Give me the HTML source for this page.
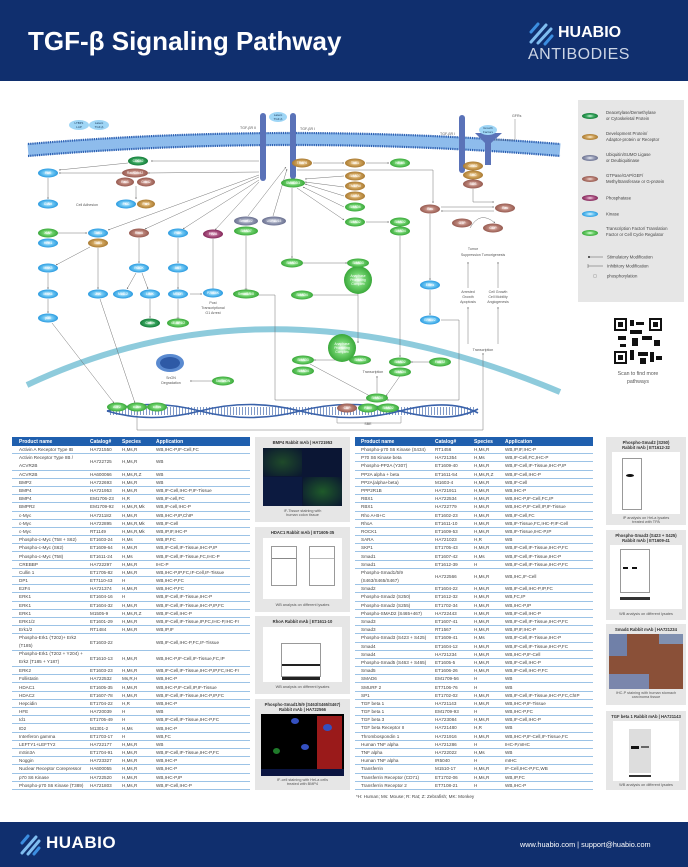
<!DOCTYPE html>
<html><head><meta charset="utf-8">
<style>
*{margin:0;padding:0;box-sizing:border-box}
body{width:688px;height:867px;position:relative;background:#fff;font-family:"Liberation Sans",sans-serif;overflow:hidden}
.hdr{position:absolute;left:0;top:0;width:688px;height:81px;background:#102f6e}
.ftr{position:absolute;left:0;top:822px;width:688px;height:45px;background:#102f6e}
.tbl{position:absolute;font-size:4.6px;color:#444}
.tbl .h{height:9px;background:#1f5fae;color:#fff;font-weight:bold;font-size:5px;display:flex;align-items:center}
.tbl .r{height:8.2px;display:flex;align-items:center;border-bottom:0.8px solid #9cc3e6}
.tbl .d{height:16.4px}
.tbl span{display:block;white-space:nowrap;overflow:hidden}
.L span:nth-child(1){width:78px;padding-left:7px}.L span:nth-child(2){width:32px}.L span:nth-child(3){width:34px}.L span:nth-child(4){width:94px}
.R span:nth-child(1){width:80px;padding-left:6px}.R span:nth-child(2){width:39px}.R span:nth-child(3){width:31px}.R span:nth-child(4){width:88px}
.pn{position:absolute;background:#e6e6e6;font-size:4px;color:#333;text-align:center}
.pn b{display:block;font-size:4.2px;margin-top:3px}
.pn .im{position:absolute;background:#fff}
.pn .cap{position:absolute;left:0;right:0;font-size:3.8px;color:#555}
</style></head><body>
<div class="hdr">
<div style="position:absolute;left:28px;top:26px;color:#fff;font-weight:bold;font-size:26px;">TGF-β Signaling Pathway</div>
<svg style="position:absolute;left:528px;top:22px" width="26" height="24"><g stroke-width="3" stroke-linecap="round"><line x1="3" y1="10" x2="10" y2="2" stroke="#3c8ee0"/><line x1="3" y1="20" x2="18" y2="3" stroke="#7fbdf0"/><line x1="10" y1="21" x2="23" y2="7" stroke="#7fbdf0"/><line x1="17" y1="22" x2="24" y2="14" stroke="#3c8ee0"/></g></svg>
<div style="position:absolute;left:558px;top:24px;color:#fff;font-size:16px;font-weight:bold;">HUABIO</div>
<div style="position:absolute;left:528px;top:46px;color:#cdd6e6;font-size:16px;letter-spacing:0.5px;">ANTIBODIES</div>
</div>

<svg style="position:absolute;left:0;top:0" width="688" height="440" viewBox="0 0 688 440">
<defs>
<radialGradient id="kb"><stop offset="0" stop-color="#e6f6ff"/><stop offset="0.5" stop-color="#6cc6f2"/><stop offset="1" stop-color="#2a9ae0"/></radialGradient>
<radialGradient id="tf"><stop offset="0" stop-color="#e6ffe6"/><stop offset="0.5" stop-color="#6cd06a"/><stop offset="1" stop-color="#3aa83a"/></radialGradient>
<radialGradient id="dp"><stop offset="0" stop-color="#fff2da"/><stop offset="0.5" stop-color="#d0a45c"/><stop offset="1" stop-color="#a97a32"/></radialGradient>
<radialGradient id="gt"><stop offset="0" stop-color="#f6e0dc"/><stop offset="0.5" stop-color="#bb8378"/><stop offset="1" stop-color="#965a50"/></radialGradient>
<radialGradient id="ub"><stop offset="0" stop-color="#eef0f8"/><stop offset="0.5" stop-color="#9aa0b8"/><stop offset="1" stop-color="#6a7090"/></radialGradient>
<radialGradient id="ph"><stop offset="0" stop-color="#f6d8e8"/><stop offset="0.5" stop-color="#b05a88"/><stop offset="1" stop-color="#84285a"/></radialGradient>
<radialGradient id="dc"><stop offset="0" stop-color="#d8f6e0"/><stop offset="0.5" stop-color="#3aa860"/><stop offset="1" stop-color="#137a38"/></radialGradient>
<marker id="a" markerWidth="4" markerHeight="4" refX="3.5" refY="2" orient="auto"><path d="M0,0.5 L4,2 L0,3.5z" fill="#555"/></marker>
<marker id="t" markerWidth="2" markerHeight="6" refX="1" refY="3" orient="auto"><path d="M1,0 L1,6" stroke="#555" stroke-width="1"/></marker>
</defs>
<!-- legend -->
<rect x="578" y="100" width="106" height="202" fill="#e6e6e6"/>
<g font-size="4.3" fill="#444">
<ellipse cx="590" cy="116" rx="8" ry="3" fill="url(#dc)"/><text x="606" y="114">Deacetylase/Demethylase</text><text x="606" y="120">or Cytoskeletal Protein</text>
<ellipse cx="590" cy="137" rx="8" ry="3" fill="url(#dp)"/><text x="606" y="135">Development Protein/</text><text x="606" y="141">Adaptor-protein or Receptor</text>
<ellipse cx="590" cy="158" rx="8" ry="3" fill="url(#ub)"/><text x="606" y="156">Ubiquitin/SUMO Ligase</text><text x="606" y="162">or Deubiquitinase</text>
<ellipse cx="590" cy="179" rx="8" ry="3" fill="url(#gt)"/><text x="606" y="177">GTPase/GAP/GEF/</text><text x="606" y="183">Methyltransferase or G-protein</text>
<ellipse cx="590" cy="198" rx="8" ry="3" fill="url(#ph)"/><text x="606" y="199.5">Phosphatase</text>
<ellipse cx="590" cy="214" rx="8" ry="3" fill="url(#kb)"/><text x="606" y="215.5">Kinase</text>
<ellipse cx="590" cy="233" rx="8" ry="3" fill="url(#tf)"/><text x="606" y="230">Transcription Factor/ Translation</text><text x="606" y="236">Factor or Cell Cycle Regulator</text>
<line x1="588" y1="257" x2="603" y2="257" stroke="#555" stroke-width="0.5"/><circle cx="589" cy="257" r="1" fill="#333"/><text x="607" y="258.5">Stimulatory Modification</text>
<line x1="588" y1="266" x2="603" y2="266" stroke="#555" stroke-width="0.5"/><line x1="588" y1="264" x2="588" y2="268" stroke="#555" stroke-width="0.5"/><text x="607" y="267.5">Inhibitory Modification</text>
<circle cx="595" cy="276" r="1.8" fill="none" stroke="#777" stroke-width="0.3"/><text x="607" y="277.5">phosphorylation</text>
</g>
<!-- QR -->
<rect x="614" y="318" width="48" height="46" fill="#fff"/>
<g fill="#111"><rect x="614" y="318" width="13" height="13"/><rect x="649" y="318" width="13" height="13"/><rect x="614" y="351" width="13" height="13"/>
<rect x="630" y="320" width="4" height="6"/><rect x="636" y="322" width="8" height="3"/><rect x="630" y="330" width="12" height="4"/><rect x="618" y="336" width="8" height="4"/><rect x="632" y="338" width="6" height="8"/><rect x="642" y="336" width="10" height="4"/><rect x="654" y="340" width="6" height="6"/><rect x="630" y="350" width="4" height="10"/><rect x="638" y="352" width="10" height="4"/><rect x="650" y="352" width="4" height="10"/><rect x="640" y="358" width="6" height="6"/><rect x="656" y="356" width="6" height="4"/><rect x="620" y="344" width="6" height="3"/></g>
<g fill="#fff"><rect x="616" y="320" width="9" height="9"/><rect x="651" y="320" width="9" height="9"/><rect x="616" y="353" width="9" height="9"/></g>
<g fill="#111"><rect x="618" y="322" width="5" height="5"/><rect x="653" y="322" width="5" height="5"/><rect x="618" y="355" width="5" height="5"/></g>
<text x="638" y="375" font-size="5.2" fill="#555" text-anchor="middle">Scan to find more</text>
<text x="638" y="383" font-size="5.2" fill="#555" text-anchor="middle">pathways</text>

<!-- nucleus -->
<path d="M27,385 Q270,270 560,392" fill="none" stroke="#8ecbdc" stroke-width="6"/>
<!-- membrane -->
<path d="M28,150 Q290,128 560,150" fill="none" stroke="#8ebcec" stroke-width="13"/>
<path d="M28,144 Q290,122 560,144" fill="none" stroke="#2e5fb0" stroke-width="2.2" stroke-dasharray="1.2 1"/>
<path d="M28,156 Q290,134 560,156" fill="none" stroke="#2e5fb0" stroke-width="2.2" stroke-dasharray="1.2 1"/>
<!-- receptors -->
<g fill="#5a72b8"><rect x="260" y="113" width="6" height="68" rx="3"/><rect x="290" y="113" width="6" height="66" rx="3"/><rect x="459" y="115" width="6" height="58" rx="3"/>
<path d="M475,133 L502,133 L491,143 L491,165 L485,165 L485,143z"/></g>
<g font-size="3.6" fill="#555"><text x="240" y="129">TGF-βR II</text><text x="300" y="130">TGF-βR I</text><text x="440" y="135">TGF-βR I</text><text x="512" y="117">GFRs</text></g>
<path d="M515,119 L515,140 L494,140" fill="none" stroke="#666" stroke-width="0.4"/>
<g fill="#9fd6f6"><ellipse cx="79" cy="125" rx="10" ry="5"/><ellipse cx="99" cy="125" rx="10" ry="5"/><ellipse cx="278" cy="117" rx="9" ry="5"/><ellipse cx="488" cy="130" rx="9" ry="5"/></g>
<g font-size="3" fill="#246" text-anchor="middle"><text x="79" y="124">LTBP1</text><text x="79" y="128">LAP</text><text x="99" y="124">Latent</text><text x="99" y="128">TGF-β</text><text x="278" y="116">Latent</text><text x="278" y="120">TGF-β</text><text x="488" y="129">Growth</text><text x="488" y="133">Factors</text></g>

<!-- connectors -->
<g stroke="#666" stroke-width="0.45" fill="none" marker-end="url(#a)">
<line x1="259" y1="161" x2="151" y2="161"/><line x1="259" y1="172" x2="148" y2="173"/>
<line x1="128" y1="163" x2="59" y2="170"/><line x1="124" y1="173" x2="59" y2="173"/>
<line x1="48" y1="178" x2="48" y2="199"/><line x1="136" y1="186" x2="136" y2="199"/>
<line x1="259" y1="175" x2="108" y2="230"/><line x1="259" y1="177" x2="145" y2="229"/><line x1="259" y1="180" x2="183" y2="229"/><line x1="259" y1="182" x2="215" y2="230"/>
<line x1="248" y1="216" x2="286" y2="167"/><line x1="273" y1="216" x2="287" y2="169"/>
<line x1="313" y1="163" x2="344" y2="163"/><line x1="366" y1="163" x2="389" y2="163"/>
<path d="M297,170 L433,170 L433,203"/>
<line x1="344" y1="176" x2="305" y2="179"/><line x1="344" y1="187" x2="305" y2="182"/><line x1="344" y1="196" x2="305" y2="184"/><line x1="344" y1="207" x2="303" y2="187"/>
<line x1="297" y1="188" x2="344" y2="220"/><line x1="366" y1="222" x2="389" y2="222"/>
<line x1="292" y1="188" x2="292" y2="258"/><line x1="303" y1="263" x2="347" y2="263"/>
<line x1="58" y1="233" x2="87" y2="233"/><line x1="90" y1="247" x2="56" y2="265"/><line x1="98" y1="248" x2="98" y2="289"/>
<line x1="48" y1="273" x2="48" y2="289"/><line x1="48" y1="299" x2="48" y2="313"/>
<line x1="139" y1="238" x2="139" y2="263"/><line x1="136" y1="273" x2="127" y2="289"/><line x1="142" y1="273" x2="148" y2="289"/><line x1="150" y1="299" x2="150" y2="318"/>
<line x1="178" y1="238" x2="178" y2="263"/><line x1="178" y1="273" x2="178" y2="289"/><line x1="190" y1="294" x2="202" y2="294"/>
<path d="M312,295 L358,295 L358,343"/><line x1="358" y1="295" x2="358" y2="274"/>
<path d="M258,295 L275,295 L275,400 L369,400"/>
<path d="M400,236 L400,357"/>
<line x1="430" y1="214" x2="430" y2="280"/><line x1="430" y1="290" x2="430" y2="315"/>
<path d="M441,320 L459,320 L459,400 L387,400"/>
<line x1="441" y1="207" x2="494" y2="207"/><path d="M473,189 L473,202 L494,202"/><line x1="494" y1="211" x2="441" y2="211"/>
<path d="M470,228 Q480,210 495,223"/>
<line x1="52" y1="323" x2="114" y2="403"/><line x1="100" y1="299" x2="135" y2="403"/>
<line x1="212" y1="381" x2="190" y2="381"/>
<line x1="310" y1="364" x2="370" y2="396"/><line x1="400" y1="376" x2="386" y2="396"/>
<line x1="377" y1="393" x2="377" y2="376"/><line x1="429" y1="362" x2="411" y2="362"/>
<line x1="350" y1="360" x2="314" y2="360"/>
<line x1="468" y1="344" x2="468" y2="307"/><line x1="498" y1="344" x2="498" y2="307"/><line x1="468" y1="288" x2="468" y2="262"/><line x1="498" y1="288" x2="498" y2="262"/>
<path d="M137,412 L137,430 L483,430 L483,353"/>
</g>
<g stroke="#666" stroke-width="0.45" fill="none" marker-end="url(#t)">
<line x1="246" y1="236" x2="246" y2="289"/><line x1="213" y1="239" x2="213" y2="289"/><line x1="178" y1="299" x2="178" y2="318"/>
</g>
<!-- APC circles -->
<circle cx="358" cy="280" r="14" fill="url(#tf)"/><circle cx="342" cy="348" r="14" fill="url(#tf)"/>
<g font-size="3.4" fill="#fff" text-anchor="middle"><text x="358" y="277">Anaphase</text><text x="358" y="281">Promoting</text><text x="358" y="285">Complex</text><text x="342" y="345">Anaphase</text><text x="342" y="349">Promoting</text><text x="342" y="353">Complex</text></g>
<!-- SnON -->
<ellipse cx="170" cy="363" rx="14" ry="9" fill="#5a8ad0"/><ellipse cx="170" cy="363" rx="10" ry="6" fill="#2e5aa6"/>
<!-- DNA -->
<path d="M107,411 Q150,398 200,411 T300,411 T400,411 T478,409" fill="none" stroke="#3a62aa" stroke-width="1.6"/>
<path d="M107,411 Q150,424 200,411 T300,411 T400,411 T478,413" fill="none" stroke="#3a62aa" stroke-width="1.6"/>
<path d="M110,411 H476" stroke="#3a62aa" stroke-width="8" stroke-dasharray="0.8 2.2" opacity="0.8"/>
<path d="M337,416 L337,423 L401,423 L401,416" fill="none" stroke="#666" stroke-width="0.4"/>
<g font-size="3.6" fill="#555" text-anchor="middle">
<text x="87" y="206">Cell Adhesion</text>
<text x="213" y="304">Post</text><text x="213" y="309">Transcriptional</text><text x="213" y="314">G1 Arrest</text>
<text x="473" y="250">Tumor</text><text x="483" y="256">Suppression Tumorigenesis</text>
<text x="468" y="293">Arrested</text><text x="468" y="298">Growth</text><text x="468" y="303">Apoptosis</text>
<text x="498" y="293">Cell Growth</text><text x="498" y="298">Cell Mobility</text><text x="498" y="303">Angiogenesis</text>
<text x="483" y="351">Transcription</text><text x="373" y="373">Transcription</text>
<text x="171" y="379">SnON</text><text x="171" y="384">Degradation</text><text x="368" y="425">SBE</text>
</g>
<!-- nodes -->
<g font-size="3.3" fill="#fff" text-anchor="middle">
<g id="nodes"></g>
<ellipse cx="138" cy="161" rx="10" ry="4.5" fill="url(#dc)"/><text x="138" y="162.2">CDC42</text>
<ellipse cx="48" cy="173" rx="10" ry="4.5" fill="url(#kb)"/><text x="48" y="174.2">PAK</text>
<ellipse cx="135" cy="173" rx="13" ry="4.5" fill="url(#gt)"/><text x="135" y="174.2">Rac/Cdc42</text>
<ellipse cx="125" cy="182" rx="9" ry="4.5" fill="url(#gt)"/><text x="125" y="183.2">Rac1</text>
<ellipse cx="146" cy="182" rx="9" ry="4.5" fill="url(#gt)"/><text x="146" y="183.2">Cdc42</text>
<ellipse cx="48" cy="204" rx="10" ry="4.5" fill="url(#kb)"/><text x="48" y="205.2">C-Abl</text>
<ellipse cx="126" cy="204" rx="10" ry="4.5" fill="url(#kb)"/><text x="126" y="205.2">PKC</text>
<ellipse cx="146" cy="204" rx="9" ry="4.5" fill="url(#dp)"/><text x="146" y="205.2">Par6</text>
<ellipse cx="302" cy="163" rx="10" ry="4.5" fill="url(#dp)"/><text x="302" y="164.2">TRAF6</text>
<ellipse cx="355" cy="163" rx="10" ry="4.5" fill="url(#dp)"/><text x="355" y="164.2">TAK1</text>
<ellipse cx="400" cy="163" rx="10" ry="4.5" fill="url(#tf)"/><text x="400" y="164.2">NF-kB</text>
<ellipse cx="355" cy="176" rx="10" ry="4.5" fill="url(#dp)"/><text x="355" y="177.2">SMAD7</text>
<ellipse cx="355" cy="186" rx="10" ry="4.5" fill="url(#dp)"/><text x="355" y="187.2">TMEPAI</text>
<ellipse cx="355" cy="196" rx="10" ry="4.5" fill="url(#dp)"/><text x="355" y="197.2">SARA</text>
<ellipse cx="355" cy="207" rx="10" ry="4.5" fill="url(#tf)"/><text x="355" y="208.2">SMAD6</text>
<ellipse cx="293" cy="183" rx="12" ry="4.5" fill="url(#tf)"/><text x="293" y="184.2">SMAD2/3</text>
<ellipse cx="355" cy="222" rx="10" ry="4.5" fill="url(#tf)"/><text x="355" y="223.2">SMAD2</text>
<ellipse cx="400" cy="222" rx="10" ry="4.5" fill="url(#tf)"/><text x="400" y="223.2">SMAD2</text>
<ellipse cx="400" cy="231" rx="10" ry="4.5" fill="url(#tf)"/><text x="400" y="232.2">SMAD4</text>
<ellipse cx="473" cy="166" rx="10" ry="4.5" fill="url(#dp)"/><text x="473" y="167.2">GRB2</text>
<ellipse cx="473" cy="175" rx="10" ry="4.5" fill="url(#dp)"/><text x="473" y="176.2">SHC</text>
<ellipse cx="473" cy="184" rx="10" ry="4.5" fill="url(#gt)"/><text x="473" y="185.2">SOS</text>
<ellipse cx="430" cy="209" rx="10" ry="4.5" fill="url(#gt)"/><text x="430" y="210.2">Ras</text>
<ellipse cx="505" cy="208" rx="10" ry="4.5" fill="url(#gt)"/><text x="505" y="209.2">Ras</text>
<ellipse cx="462" cy="223" rx="10" ry="4.5" fill="url(#gt)"/><text x="462" y="224.2">GTP</text>
<ellipse cx="493" cy="228" rx="10" ry="4.5" fill="url(#gt)"/><text x="493" y="229.2">GDP</text>
<ellipse cx="48" cy="233" rx="10" ry="4.5" fill="url(#tf)"/><text x="48" y="234.2">XIAP</text>
<ellipse cx="48" cy="243" rx="10" ry="4.5" fill="url(#kb)"/><text x="48" y="244.2">HPK1</text>
<ellipse cx="98" cy="233" rx="10" ry="4.5" fill="url(#kb)"/><text x="98" y="234.2">TAK1</text>
<ellipse cx="98" cy="243" rx="10" ry="4.5" fill="url(#dp)"/><text x="98" y="244.2">TAB1</text>
<ellipse cx="139" cy="233" rx="10" ry="4.5" fill="url(#gt)"/><text x="139" y="234.2">RhoA</text>
<ellipse cx="178" cy="233" rx="10" ry="4.5" fill="url(#kb)"/><text x="178" y="234.2">PI3K</text>
<ellipse cx="213" cy="234" rx="10" ry="4.5" fill="url(#ph)"/><text x="213" y="235.2">PP2A</text>
<ellipse cx="246" cy="221" rx="12" ry="4.5" fill="url(#ub)"/><text x="246" y="222.2">Smurf1/2</text>
<ellipse cx="246" cy="231" rx="12" ry="4.5" fill="url(#tf)"/><text x="246" y="232.2">SMAD7</text>
<ellipse cx="274" cy="221" rx="12" ry="4.5" fill="url(#ub)"/><text x="274" y="222.2">USP11/15</text>
<ellipse cx="48" cy="268" rx="10" ry="4.5" fill="url(#kb)"/><text x="48" y="269.2">MKK3</text>
<ellipse cx="139" cy="268" rx="10" ry="4.5" fill="url(#kb)"/><text x="139" y="269.2">ROCK</text>
<ellipse cx="178" cy="268" rx="10" ry="4.5" fill="url(#kb)"/><text x="178" y="269.2">AKT</text>
<ellipse cx="292" cy="263" rx="11" ry="4.5" fill="url(#tf)"/><text x="292" y="264.2">SMAD3</text>
<ellipse cx="358" cy="263" rx="11" ry="4.5" fill="url(#tf)"/><text x="358" y="264.2">SMAD3</text>
<ellipse cx="48" cy="294" rx="10" ry="4.5" fill="url(#kb)"/><text x="48" y="295.2">MKK6</text>
<ellipse cx="98" cy="294" rx="10" ry="4.5" fill="url(#kb)"/><text x="98" y="295.2">JNK</text>
<ellipse cx="123" cy="294" rx="10" ry="4.5" fill="url(#kb)"/><text x="123" y="295.2">MLC-2</text>
<ellipse cx="150" cy="294" rx="10" ry="4.5" fill="url(#kb)"/><text x="150" y="295.2">LIMK</text>
<ellipse cx="178" cy="294" rx="10" ry="4.5" fill="url(#kb)"/><text x="178" y="295.2">MTOR</text>
<ellipse cx="213" cy="293" rx="10" ry="4.5" fill="url(#kb)"/><text x="213" y="294.2">P70S6K</text>
<ellipse cx="246" cy="294" rx="13" ry="4.5" fill="url(#tf)"/><text x="246" y="295.2">Smad1/5/8</text>
<ellipse cx="302" cy="295" rx="11" ry="4.5" fill="url(#tf)"/><text x="302" y="296.2">SMAD4</text>
<ellipse cx="430" cy="285" rx="10" ry="4.5" fill="url(#kb)"/><text x="430" y="286.2">ERKs</text>
<ellipse cx="48" cy="318" rx="10" ry="4.5" fill="url(#kb)"/><text x="48" y="319.2">p38</text>
<ellipse cx="150" cy="323" rx="10" ry="4.5" fill="url(#dc)"/><text x="150" y="324.2">Cofilin</text>
<ellipse cx="178" cy="323" rx="11" ry="4.5" fill="url(#tf)"/><text x="178" y="324.2">4E-BP1/2</text>
<ellipse cx="430" cy="320" rx="10" ry="4.5" fill="url(#kb)"/><text x="430" y="321.2">ERK1/2</text>
<ellipse cx="223" cy="381" rx="11" ry="4.5" fill="url(#tf)"/><text x="223" y="382.2">Ski/SnON</text>
<ellipse cx="303" cy="360" rx="11" ry="4.5" fill="url(#tf)"/><text x="303" y="361.2">SMAD3</text>
<ellipse cx="303" cy="371" rx="11" ry="4.5" fill="url(#tf)"/><text x="303" y="372.2">SMAD4</text>
<ellipse cx="360" cy="360" rx="11" ry="4.5" fill="url(#tf)"/><text x="360" y="361.2">SMAD3</text>
<ellipse cx="400" cy="362" rx="11" ry="4.5" fill="url(#tf)"/><text x="400" y="363.2">SMAD2</text>
<ellipse cx="400" cy="372" rx="11" ry="4.5" fill="url(#tf)"/><text x="400" y="373.2">SMAD4</text>
<ellipse cx="440" cy="362" rx="11" ry="4.5" fill="url(#tf)"/><text x="440" y="363.2">FAST2</text>
<ellipse cx="377" cy="398" rx="11" ry="4.5" fill="url(#tf)"/><text x="377" y="399.2">SMAD4</text>
<ellipse cx="117" cy="407" rx="10" ry="4.5" fill="url(#tf)"/><text x="117" y="408.2">ATF2</text>
<ellipse cx="137" cy="407" rx="10" ry="4.5" fill="url(#tf)"/><text x="137" y="408.2">c-Jun</text>
<ellipse cx="157" cy="407" rx="10" ry="4.5" fill="url(#tf)"/><text x="157" y="408.2">c-Fos</text>
<ellipse cx="347" cy="408" rx="10" ry="4.5" fill="url(#gt)"/><text x="347" y="409.2">CBP</text>
<ellipse cx="368" cy="408" rx="10" ry="4.5" fill="url(#tf)"/><text x="368" y="409.2">P300</text>
<ellipse cx="388" cy="408" rx="11" ry="4.5" fill="url(#tf)"/><text x="388" y="409.2">SMAD2</text>
</g>
</svg>

<!-- LEFT TABLE -->
<div class="tbl L" style="left:12px;top:437px;width:238px">
<div class="h"><span>Product name</span><span>Catalog#</span><span>Species</span><span>Application</span></div>
<div class="r"><span>Activin A Receptor Type IB</span><span>HA721550</span><span>H,Ms,R</span><span>WB,IHC-P,IF-Cell,FC</span></div>
<div class="r d"><span style="white-space:normal;line-height:8px">Activin Receptor Type IIB / ACVR2B</span><span>HA722725</span><span>H,Ms,R</span><span>WB</span></div>
<div class="r"><span>ACVR2B</span><span>HA600066</span><span>H,Ms,R,Z</span><span>WB</span></div>
<div class="r"><span>BMP2</span><span>HA722693</span><span>H,Ms,R</span><span>WB</span></div>
<div class="r"><span>BMP4</span><span>HA721953</span><span>H,Ms,R</span><span>WB,IF-Cell,IHC-P,IF-Tissue</span></div>
<div class="r"><span>BMP4</span><span>EM1706-23</span><span>H,R</span><span>WB,IF-cell,FC</span></div>
<div class="r"><span>BMPR2</span><span>EM1709-92</span><span>H,Ms,R,Mk</span><span>WB,IF-cell,IHC-P</span></div>
<div class="r"><span>c-Myc</span><span>HA721182</span><span>H,Ms,R</span><span>WB,IHC-P,IP,ChIP</span></div>
<div class="r"><span>c-Myc</span><span>HA722895</span><span>H,Ms,R,Mk</span><span>WB,IF-Cell</span></div>
<div class="r"><span>c-Myc</span><span>RT1149</span><span>H,Ms,R,Mk</span><span>WB,IP,IF,IHC-P</span></div>
<div class="r"><span>Phospho-c-Myc (T58 + S62)</span><span>ET1603-24</span><span>H,Ms</span><span>WB,IP,FC</span></div>
<div class="r"><span>Phospho-c-Myc (S62)</span><span>ET1609-64</span><span>H,Ms,R</span><span>WB,IF-Cell,IF-Tissue,IHC-P,IP</span></div>
<div class="r"><span>Phospho-c-Myc (T58)</span><span>ET1611-24</span><span>H,Ms</span><span>WB,IF-Cell,IF-Tissue,FC,IHC-P</span></div>
<div class="r"><span>CREBBP</span><span>HA722297</span><span>H,Ms,R</span><span>IHC-P</span></div>
<div class="r"><span>Cullin 1</span><span>ET1705-82</span><span>H,Ms,R</span><span>WB,IHC-P,IP,FC,IF-Cell,IF-Tissue</span></div>
<div class="r"><span>DP1</span><span>ET7110-43</span><span>H</span><span>WB,IHC-P,FC</span></div>
<div class="r"><span>E2F4</span><span>HA721374</span><span>H,Ms,R</span><span>WB,IHC-P,FC</span></div>
<div class="r"><span>ERK1</span><span>ET1604-16</span><span>H</span><span>WB,IF-Cell,IF-Tissue,IHC-P</span></div>
<div class="r"><span>ERK1</span><span>ET1604-32</span><span>H,Ms,R</span><span>WB,IF-Cell,IF-Tissue,IHC-P,IP,FC</span></div>
<div class="r"><span>ERK1</span><span>M1505-9</span><span>H,Ms,R,Z</span><span>WB,IF-Cell,IHC-P</span></div>
<div class="r"><span>ERK1/2</span><span>ET1601-29</span><span>H,Ms,R</span><span>WB,IF-Cell,IF-Tissue,IP,FC,IHC-P,IHC-Fr</span></div>
<div class="r"><span>Erk1/2</span><span>RT1484</span><span>H,Ms,R</span><span>WB,IP,IF</span></div>
<div class="r d"><span style="white-space:normal;line-height:8px">Phospho-Erk1 (T202)+ Erk2 (T185)</span><span>ET1603-22</span><span></span><span>WB,IF-Cell,IHC-P,FC,IF-Tissue</span></div>
<div class="r d"><span style="white-space:normal;line-height:8px">Phospho-Erk1 (T202 + Y204) + Erk2 (T185 + Y187)</span><span>ET1610-13</span><span>H,Ms,R</span><span>WB,IHC-P,IF-Cell,IF-Tissue,FC,IP</span></div>
<div class="r"><span>ERK2</span><span>ET1603-23</span><span>H,Ms,R</span><span>WB,IF-Cell,IF-Tissue,IHC-P,IP,FC,IHC-Fr</span></div>
<div class="r"><span>Follistatin</span><span>HA722532</span><span>Ms,R,H</span><span>WB,IHC-P</span></div>
<div class="r"><span>HDAC1</span><span>ET1605-35</span><span>H,Ms,R</span><span>WB,IHC-P,IF-Cell,IP,IF-Tissue</span></div>
<div class="r"><span>HDAC2</span><span>ET1607-78</span><span>H,Ms,R</span><span>WB,IF-Cell,IF-Tissue,IHC-P,IP,FC</span></div>
<div class="r"><span>Hepcidin</span><span>ET1704-22</span><span>H,R</span><span>WB,IHC-P</span></div>
<div class="r"><span>HFE</span><span>HA720039</span><span>H</span><span>WB</span></div>
<div class="r"><span>Id1</span><span>ET1705-49</span><span>H</span><span>WB,IF-Cell,IF-Tissue,IHC-P,FC</span></div>
<div class="r"><span>ID2</span><span>M1301-2</span><span>H,Ms</span><span>WB,IHC-P</span></div>
<div class="r"><span>Interferon gamma</span><span>ET1703-17</span><span>H</span><span>WB,FC</span></div>
<div class="r"><span>LEFTY1+LEFTY2</span><span>HA722177</span><span>H,Ms,R</span><span>WB</span></div>
<div class="r"><span>mSin3A</span><span>ET1704-91</span><span>H,Ms,R</span><span>WB,IF-Cell,IF-Tissue,IHC-P,FC</span></div>
<div class="r"><span>Noggin</span><span>HA723327</span><span>H,Ms,R</span><span>WB,IHC-P</span></div>
<div class="r"><span>Nuclear Receptor Corepressor</span><span>HA600055</span><span>H,Ms,R</span><span>WB,IHC-P</span></div>
<div class="r"><span>p70 S6 Kinase</span><span>HA722520</span><span>H,Ms,R</span><span>WB,IHC-P,IP</span></div>
<div class="r"><span>Phospho-p70 S6 Kinase (T389)</span><span>HA721803</span><span>H,Ms,R</span><span>WB,IF-Cell,IHC-P</span></div>
</div>

<!-- RIGHT TABLE -->
<div class="tbl R" style="left:355px;top:437px;width:238px">
<div class="h"><span>Product name</span><span>Catalog#</span><span>Species</span><span>Application</span></div>
<div class="r"><span>Phospho-p70 S6 Kinase (S434)</span><span>RT1456</span><span>H,Ms,R</span><span>WB,IP,IF,IHC-P</span></div>
<div class="r"><span>P70 S6 Kinase beta</span><span>HA721354</span><span>H,Ms</span><span>WB,IF-Cell,FC,IHC-P</span></div>
<div class="r"><span>Phospho-PP2A (Y307)</span><span>ET1609-40</span><span>H,Ms,R</span><span>WB,IF-Cell,IF-Tissue,IHC-P,IP</span></div>
<div class="r"><span>PP2A alpha + beta</span><span>ET1611-54</span><span>H,Ms,R,Z</span><span>WB,IF-Cell,IHC-P</span></div>
<div class="r"><span>PP2A(alpha+beta)</span><span>M1603-4</span><span>H,Ms,R</span><span>WB,IF-Cell</span></div>
<div class="r"><span>PPP2R1B</span><span>HA721911</span><span>H,Ms,R</span><span>WB,IHC-P</span></div>
<div class="r"><span>RBX1</span><span>HA722534</span><span>H,Ms,R</span><span>WB,IHC-P,IF-Cell,FC,IP</span></div>
<div class="r"><span>RBX1</span><span>HA722779</span><span>H,Ms,R</span><span>WB,IHC-P,IF-Cell,IP,IF-Tissue</span></div>
<div class="r"><span>Rho A+B+C</span><span>ET1602-23</span><span>H,Ms,R</span><span>WB,IF-Cell,FC</span></div>
<div class="r"><span>RhoA</span><span>ET1611-10</span><span>H,Ms,R</span><span>WB,IF-Tissue,FC,IHC-P,IF-Cell</span></div>
<div class="r"><span>ROCK1</span><span>ET1609-53</span><span>H,Ms,R</span><span>WB,IF-Tissue,IHC-P,IP</span></div>
<div class="r"><span>SARA</span><span>HA721023</span><span>H,R</span><span>WB</span></div>
<div class="r"><span>SKP1</span><span>ET1705-43</span><span>H,Ms,R</span><span>WB,IF-Cell,IF-Tissue,IHC-P,FC</span></div>
<div class="r"><span>Smad1</span><span>ET1607-42</span><span>H,Ms</span><span>WB,IF-Cell,IF-Tissue,IHC-P</span></div>
<div class="r"><span>Smad1</span><span>ET1612-39</span><span>H</span><span>WB,IF-Cell,IF-Tissue,IHC-P,FC</span></div>
<div class="r d"><span style="white-space:normal;line-height:8px">Phospho-Smad1/5/9 (S463/S465/S467)</span><span>HA722566</span><span>H,Ms,R</span><span>WB,IHC,IF-Cell</span></div>
<div class="r"><span>Smad2</span><span>ET1604-22</span><span>H,Ms,R</span><span>WB,IF-Cell,IHC-P,IP,FC</span></div>
<div class="r"><span>Phospho-Smad2 (S250)</span><span>ET1612-32</span><span>H,Ms,R</span><span>WB,FC,IP</span></div>
<div class="r"><span>Phospho-Smad2 (S255)</span><span>ET1702-34</span><span>H,Ms,R</span><span>WB,IHC-P,IP</span></div>
<div class="r"><span>Phospho-SMAD2 (S465+467)</span><span>HA722443</span><span>H,Ms,R</span><span>WB,IF-Cell,IHC-P</span></div>
<div class="r"><span>Smad3</span><span>ET1607-41</span><span>H,Ms,R</span><span>WB,IF-Cell,IF-Tissue,IHC-P,FC</span></div>
<div class="r"><span>Smad3</span><span>RT1567</span><span>H,Ms,R</span><span>WB,IP,IF,IHC-P</span></div>
<div class="r"><span>Phospho-Smad3 (S423 + S425)</span><span>ET1609-41</span><span>H,Ms</span><span>WB,IF-Cell,IF-Tissue,IHC-P</span></div>
<div class="r"><span>Smad4</span><span>ET1604-12</span><span>H,Ms,R</span><span>WB,IF-Cell,IF-Tissue,IHC-P,FC</span></div>
<div class="r"><span>Smad4</span><span>HA721234</span><span>H,Ms,R</span><span>WB,IHC-P,IF-Cell</span></div>
<div class="r"><span>Phospho-Smad5 (S463 + S465)</span><span>ET1605-5</span><span>H,Ms,R</span><span>WB,IF-Cell,IHC-P</span></div>
<div class="r"><span>Smad5</span><span>ET1606-26</span><span>H,Ms,R</span><span>WB,IF-Cell,IHC-P,FC</span></div>
<div class="r"><span>SMAD6</span><span>EM1709-56</span><span>H</span><span>WB</span></div>
<div class="r"><span>SMURF 2</span><span>ET7106-76</span><span>H</span><span>WB</span></div>
<div class="r"><span>SP1</span><span>ET1702-02</span><span>H,Ms,R</span><span>WB,IF-Cell,IF-Tissue,IHC-P,FC,ChIP</span></div>
<div class="r"><span>TGF beta 1</span><span>HA721143</span><span>H,Ms,R</span><span>WB,IHC-P,IF-Tissue</span></div>
<div class="r"><span>TGF beta 1</span><span>EM1709-93</span><span>H</span><span>WB,IHC-P,FC</span></div>
<div class="r"><span>TGF beta 3</span><span>HA723084</span><span>H,Ms,R</span><span>WB,IF-Cell,IHC-P</span></div>
<div class="r"><span>TGF beta Receptor II</span><span>HA721480</span><span>H,R</span><span>WB</span></div>
<div class="r"><span>Thrombospondin 1</span><span>HA721916</span><span>H,Ms,R</span><span>WB,IHC-P,IF-Cell,IF-Tissue,FC</span></div>
<div class="r"><span>Human TNF alpha</span><span>HA721286</span><span>H</span><span>IHC-P,mIHC</span></div>
<div class="r"><span>TNF alpha</span><span>HA722022</span><span>H,Ms</span><span>WB</span></div>
<div class="r"><span>Human TNF alpha</span><span>IR5040</span><span>H</span><span>mIHC</span></div>
<div class="r"><span>Transferrin</span><span>M1510-17</span><span>H,Ms,R</span><span>IF-Cell,IHC-P,FC,WB</span></div>
<div class="r"><span>Transferrin Receptor (CD71)</span><span>ET1702-06</span><span>H,Ms,R</span><span>WB,IP,FC</span></div>
<div class="r"><span>Transferrin Receptor 2</span><span>ET7108-21</span><span>H</span><span>WB,IHC-P</span></div>
</div>
<div style="position:absolute;left:356px;top:794px;font-size:4.6px;color:#444">*H: Human; Ms: Mouse; R: Rat; Z: Zebrafish; MK: Monkey</div>

<!-- middle panels -->
<div class="pn" style="left:255px;top:437px;width:95px;height:85px"><b>BMP4 Rabbit mAb | HA721953</b>
<div class="im" style="left:8px;top:11px;width:79px;height:58px;background:#0b1634">
<div style="position:absolute;left:0;top:0;width:39px;height:28px;background:radial-gradient(#1f4a2a,#0a1630)"></div>
<div style="position:absolute;left:40px;top:29px;width:39px;height:29px;background:radial-gradient(#1f5a2a,#0a1630)"></div>
<div style="position:absolute;left:0;top:29px;width:39px;height:29px;background:#0c1a40"></div></div>
<div class="cap" style="top:72px">IF-Tissue staining with<br>human colon tissue</div></div>
<div class="pn" style="left:255px;top:527px;width:95px;height:85px"><b>HDAC1 Rabbit mAb | ET1605-35</b>
<div class="im" style="left:8px;top:11px;width:79px;height:61px">
<div style="position:absolute;left:8px;top:8px;width:26px;height:40px;border:0.5px solid #999"></div>
<div style="position:absolute;left:46px;top:8px;width:26px;height:40px;border:0.5px solid #999"></div>
<div style="position:absolute;left:9px;top:20px;width:24px;height:1.2px;background:#888"></div>
<div style="position:absolute;left:47px;top:20px;width:24px;height:1px;background:#bbb"></div></div>
<div class="cap" style="top:76px">WB analysis on different lysates</div></div>
<div class="pn" style="left:255px;top:616px;width:95px;height:78px"><b>RhoA Rabbit mAb | ET1611-10</b>
<div class="im" style="left:8px;top:11px;width:79px;height:55px">
<div style="position:absolute;left:18px;top:16px;width:40px;height:34px;border:0.5px solid #999"></div>
<div style="position:absolute;left:19px;top:37px;width:38px;height:2px;background:#222"></div>
<div style="position:absolute;left:19px;top:50px;width:38px;height:2.5px;background:#222"></div></div>
<div class="cap" style="top:69px">WB analysis on different lysates</div></div>
<div class="pn" style="left:255px;top:699px;width:95px;height:91px"><b>Phospho-Smad1/5/9 (S463/S465/S467)<br>Rabbit mAb | HA722566</b>
<div class="im" style="left:6px;top:15px;width:83px;height:62px;background:#000">
<div style="position:absolute;left:56px;top:2px;width:25px;height:54px;background:#9a1a1a"></div>
<div style="position:absolute;left:30px;top:4px;width:8px;height:6px;border-radius:50%;background:#3450c0"></div>
<div style="position:absolute;left:40px;top:30px;width:8px;height:6px;border-radius:50%;background:#3450c0"></div>
<div style="position:absolute;left:62px;top:10px;width:9px;height:7px;border-radius:50%;background:#3450c0"></div>
<div style="position:absolute;left:12px;top:34px;width:7px;height:6px;border-radius:50%;background:#1f7a2a"></div>
<div style="position:absolute;left:0;top:55px;width:83px;height:7px;background:#0a1440"></div></div>
<div class="cap" style="top:79px">IF-cell staining with HeLa cells<br>treated with BMP4</div></div>

<!-- right panels -->
<div class="pn" style="left:606px;top:437px;width:80px;height:88px"><b>Phospho-Smad2 (S250)<br>Rabbit mAb | ET1612-32</b>
<div class="im" style="left:6px;top:15px;width:68px;height:62px">
<div style="position:absolute;left:10px;top:6px;width:20px;height:52px;border:0.5px solid #999"></div>
<div style="position:absolute;left:14px;top:22px;width:8px;height:3px;background:#111;border-radius:50%"></div></div>
<div class="cap" style="top:79px">IP analysis on HeLa lysates<br>treated with TPA</div></div>
<div class="pn" style="left:606px;top:530px;width:80px;height:90px"><b>Phospho-Smad3 (S423 + S425)<br>Rabbit mAb | ET1609-41</b>
<div class="im" style="left:4px;top:15px;width:72px;height:64px">
<div style="position:absolute;left:10px;top:4px;width:30px;height:44px;border:0.5px solid #999"></div>
<div style="position:absolute;left:13px;top:22px;width:5px;height:2px;background:#111"></div><div style="position:absolute;left:22px;top:22px;width:5px;height:2px;background:#111"></div>
<div style="position:absolute;left:10px;top:52px;width:30px;height:3px;background:#333"></div></div>
<div class="cap" style="top:82px">WB analysis on different lysates</div></div>
<div class="pn" style="left:606px;top:624px;width:80px;height:81px"><b>Smad4 Rabbit mAb | HA721234</b>
<div class="im" style="left:3px;top:10px;width:74px;height:55px;background:#8a5038">
<div style="position:absolute;left:0;top:0;width:18px;height:22px;background:#7080a8"></div>
<div style="position:absolute;left:50px;top:0;width:24px;height:10px;background:#8090b0"></div>
<div style="position:absolute;left:0;top:40px;width:40px;height:15px;background:#7a86ac"></div></div>
<div class="cap" style="top:67px">IHC-P staining with human stomach<br>carcinoma tissue</div></div>
<div class="pn" style="left:606px;top:711px;width:80px;height:79px"><b>TGF beta 1 Rabbit mAb | HA721143</b>
<div class="im" style="left:7px;top:10px;width:66px;height:60px">
<div style="position:absolute;left:16px;top:8px;width:22px;height:44px;background:#ddd"></div>
<div style="position:absolute;left:18px;top:25px;width:8px;height:2.5px;background:#111"></div><div style="position:absolute;left:28px;top:25px;width:8px;height:1.5px;background:#666"></div>
<div style="position:absolute;left:16px;top:54px;width:22px;height:2px;background:#333"></div></div>
<div class="cap" style="top:72px">WB analysis on different lysates</div></div>

<div class="ftr">
<svg style="position:absolute;left:19px;top:12px" width="22" height="22"><g stroke-width="3" stroke-linecap="round"><line x1="3" y1="9" x2="9" y2="2" stroke="#3c8ee0"/><line x1="3" y1="19" x2="17" y2="3" stroke="#7fbdf0"/><line x1="9" y1="20" x2="20" y2="7" stroke="#7fbdf0"/><line x1="15" y1="20" x2="20" y2="14" stroke="#3c8ee0"/></g></svg>
<div style="position:absolute;left:46px;top:11px;color:#fff;font-size:17px;font-weight:bold;letter-spacing:0.5px">HUABIO</div>
<div style="position:absolute;left:520px;top:18px;color:#fff;font-size:7.3px">www.huabio.com | support@huabio.com</div>
</div>
</body></html>
